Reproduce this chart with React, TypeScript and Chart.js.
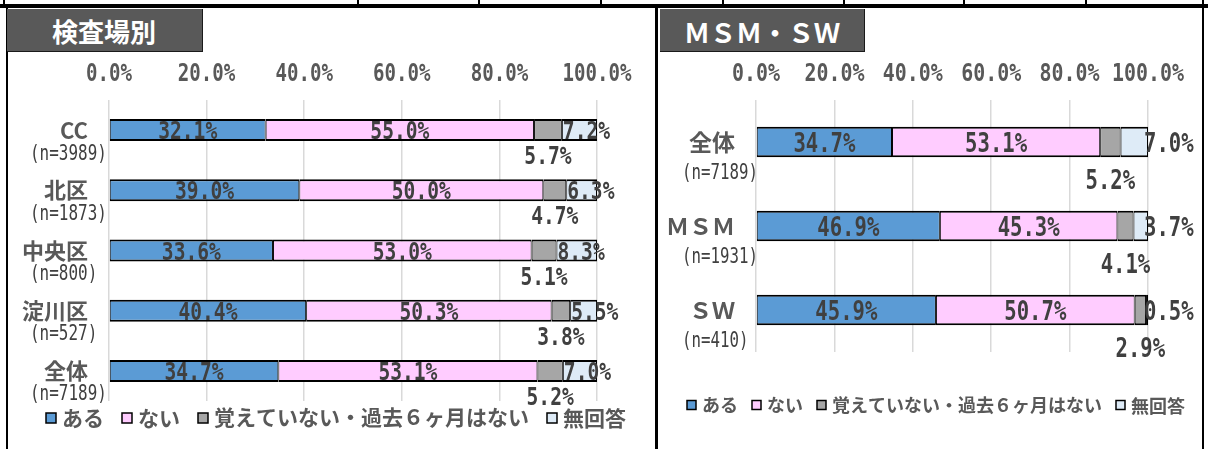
import React, { useEffect, useRef } from 'react';
import { Chart, registerables } from 'chart.js';

Chart.register(...registerables);

// ---------- data ----------
const seriesNames = ['ある', 'ない', '覚えていない・過去６ヶ月はない', '無回答'];
const seriesColors = ['#5B9BD5', '#FFCCFF', '#A6A6A6', '#DEEBF7'];

const siteCategories = ['CC', '北区', '中央区', '淀川区', '全体'];
const siteCounts = ['(n=3989)', '(n=1873)', '(n=800)', '(n=527)', '(n=7189)'];
const siteAru = [32.1, 39.0, 33.6, 40.4, 34.7];
const siteNai = [55.0, 50.0, 53.0, 50.3, 53.1];
const siteOboete = [5.7, 4.7, 5.1, 3.8, 5.2];
const siteMukaitou = [7.2, 6.3, 8.3, 5.5, 7.0];

const groupCategories = ['全体', 'ＭＳＭ', 'ＳＷ'];
const groupCounts = ['(n=7189)', '(n=1931)', '(n=410)'];
const groupAru = [34.7, 46.9, 45.9];
const groupNai = [53.1, 45.3, 50.7];
const groupOboete = [5.2, 4.1, 2.9];
const groupMukaitou = [7.0, 3.7, 0.5];

const tickValues = [0, 20, 40, 60, 80, 100];
const tickLabels = ['0.0%', '20.0%', '40.0%', '60.0%', '80.0%', '100.0%'];

// ---------- styling ----------
const NUM_FAMILY = "'DejaVu Sans Mono', 'Liberation Mono', monospace";
const JP_FAMILY = "'Noto Sans CJK JP', 'Noto Sans', sans-serif";

type TextOpts = {
  size: number;
  family: string;
  weight?: string;
  color: string;
  align?: 'left' | 'right' | 'center';
  sx?: number;
};

function drawText(ctx: CanvasRenderingContext2D, text: string, x: number, cy: number, o: TextOpts) {
  ctx.save();
  ctx.font = `${o.weight || 'normal'} ${o.size}px ${o.family}`;
  ctx.fillStyle = o.color;
  ctx.textAlign = 'left';
  ctx.textBaseline = 'alphabetic';
  const m = ctx.measureText(text);
  const sx = o.sx ?? 1;
  const w = m.width * sx;
  let left = x;
  if (o.align === 'center') left = x - w / 2;
  else if (o.align === 'right') left = x - w;
  const by = cy + (m.actualBoundingBoxAscent - m.actualBoundingBoxDescent) / 2;
  ctx.translate(left, by);
  ctx.scale(sx, 1);
  ctx.fillText(text, 0, 0);
  ctx.restore();
  return w;
}

const panelLabelsPlugin = {
  id: 'panelLabels',
  afterDraw(chart: any, _args: any, s: any) {
    const ctx: CanvasRenderingContext2D = chart.ctx;
    const xs = chart.scales.x;

    // axis tick labels (top)
    tickValues.forEach((v, i) => {
      drawText(ctx, tickLabels[i], xs.getPixelForValue(v), s.tickY, { ...s.tickFont, align: 'center' });
    });

    // category labels
    const meta0 = chart.getDatasetMeta(0);
    chart.data.labels.forEach((lab: string[], i: number) => {
      const y = meta0.data[i].y;
      drawText(ctx, lab[0], s.catRightX, y + s.catDy, { ...s.catFont, align: 'right' });
      drawText(ctx, lab[1], s.nLeftX, y + s.nDy, { ...s.nFont, align: 'left' });
    });

    // value labels
    chart.data.datasets.forEach((ds: any, d: number) => {
      const meta = chart.getDatasetMeta(d);
      meta.data.forEach((el: any, i: number) => {
        const p = el.getProps(['x', 'base', 'y'], true);
        const l = Math.min(p.x, p.base);
        const r = Math.max(p.x, p.base);
        const txt = Number(ds.data[i]).toFixed(1) + '%';
        if (d < 2) {
          drawText(ctx, txt, (l + r) / 2, p.y, { ...s.valFont, align: 'center' });
        } else if (d === 2) {
          drawText(ctx, txt, (l + r) / 2, p.y + s.belowDy, { ...s.valFont, align: 'center' });
        } else {
          const ax = s.lastAnchor === 'end' ? xs.getPixelForValue(100) + s.lastDx : l + s.lastDx;
          drawText(ctx, txt, ax, p.y, { ...s.valFont, align: 'left' });
        }
      });
    });

    // legend
    let x = s.legendX;
    const y = s.legendY;
    const b = s.legendBox;
    chart.data.datasets.forEach((ds: any) => {
      ctx.save();
      ctx.fillStyle = ds.backgroundColor;
      ctx.fillRect(x, y - b / 2, b, b);
      ctx.strokeStyle = '#000';
      ctx.lineWidth = 1.5;
      ctx.strokeRect(x, y - b / 2, b, b);
      ctx.restore();
      x += b + s.legendBoxGap;
      const w = drawText(ctx, ds.label, x, y, { ...s.legendFont, align: 'left' });
      x += w + s.legendItemGap;
    });
  },
};

function StackedPanel(props: {
  left: number;
  top: number;
  width: number;
  height: number;
  categories: string[];
  counts: string[];
  values: number[][];
  padding: { left: number; right: number; top: number; bottom: number };
  barFraction: number;
  labelStyle: any;
}) {
  const ref = useRef<HTMLCanvasElement>(null);
  useEffect(() => {
    const chart = new Chart(ref.current as HTMLCanvasElement, {
      type: 'bar',
      data: {
        labels: props.categories.map((c, i) => [c, props.counts[i]]),
        datasets: seriesNames.map((name, k) => ({
          label: name,
          data: props.values[k],
          backgroundColor: seriesColors[k],
          borderColor: '#000000',
          borderWidth: { top: 2, bottom: 2, left: 1, right: 1 },
          borderSkipped: false,
          categoryPercentage: props.barFraction,
          barPercentage: 1,
        })),
      } as any,
      options: {
        indexAxis: 'y',
        animation: false,
        responsive: false,
        maintainAspectRatio: false,
        events: [],
        layout: { padding: props.padding },
        scales: {
          x: {
            type: 'linear',
            stacked: true,
            position: 'top',
            min: 0,
            max: 100,
            afterBuildTicks: (scale: any) => {
              scale.ticks = tickValues.map((v) => ({ value: v }));
            },
            ticks: { display: false },
            grid: { color: '#D9D9D9', lineWidth: 1.5, drawTicks: false },
            border: { display: false },
          },
          y: {
            stacked: true,
            display: false,
          },
        },
        plugins: {
          legend: { display: false },
          tooltip: { enabled: false },
          panelLabels: props.labelStyle,
        } as any,
      } as any,
      plugins: [panelLabelsPlugin as any],
    });
    return () => chart.destroy();
  }, []);
  return (
    <canvas
      ref={ref}
      width={props.width}
      height={props.height}
      style={{ position: 'absolute', left: props.left, top: props.top, width: props.width, height: props.height }}
    />
  );
}

const leftLabelStyle = {
  tickY: 19,
  tickFont: { size: 25, family: NUM_FAMILY, weight: 'bold', color: '#595959', sx: 0.764 },
  catRightX: 80,
  catDy: 0,
  catFont: { size: 22, family: JP_FAMILY, weight: 'bold', color: '#595959' },
  nLeftX: 22,
  nDy: 23,
  nFont: { size: 21, family: NUM_FAMILY, color: '#404040', sx: 0.76 },
  valFont: { size: 25, family: NUM_FAMILY, weight: 'bold', color: '#404040', sx: 0.784 },
  belowDy: 25,
  lastAnchor: 'start',
  lastDx: 1,
  legendX: 38,
  legendY: 365,
  legendBox: 10,
  legendBoxGap: 6,
  legendItemGap: 18,
  legendFont: { size: 21, family: JP_FAMILY, weight: 'bold', color: '#595959' },
};

const rightLabelStyle = {
  tickY: 19,
  tickFont: { size: 25, family: NUM_FAMILY, weight: 'bold', color: '#595959', sx: 0.797 },
  catRightX: 76,
  catDy: 0,
  catFont: { size: 23, family: JP_FAMILY, weight: 'bold', color: '#595959' },
  nLeftX: 23,
  nDy: 30,
  nFont: { size: 21, family: NUM_FAMILY, color: '#404040', sx: 0.75 },
  valFont: { size: 27, family: NUM_FAMILY, weight: 'bold', color: '#404040', sx: 0.763 },
  belowDy: 37,
  lastAnchor: 'end',
  lastDx: -4,
  legendX: 28,
  legendY: 352,
  legendBox: 9,
  legendBoxGap: 6,
  legendItemGap: 14,
  legendFont: { size: 18, family: JP_FAMILY, weight: 'bold', color: '#595959' },
};

const topCellLines = [3, 357, 478, 600, 722, 843, 963, 1085, 1202];

export default function App() {
  return (
    <div
      style={{
        position: 'absolute',
        left: 0,
        top: 0,
        width: 1208,
        height: 449,
        background: '#ffffff',
        overflow: 'hidden',
      }}
    >
      {topCellLines.map((x) => (
        <div key={x} style={{ position: 'absolute', left: x, top: 0, width: 1.5, height: 5, background: '#000' }} />
      ))}
      <div style={{ position: 'absolute', left: 0, top: 4, width: 1208, height: 4, background: '#000' }} />
      <div style={{ position: 'absolute', left: 6, top: 8, width: 2, height: 441, background: '#000' }} />
      <div style={{ position: 'absolute', left: 655, top: 8, width: 3, height: 441, background: '#000' }} />
      <div style={{ position: 'absolute', left: 1202, top: 8, width: 2, height: 441, background: '#000' }} />

      <div
        style={{
          position: 'absolute',
          left: 7,
          top: 9,
          width: 196,
          height: 43,
          background: '#595959',
          borderRight: '1.5px solid #1a1a1a',
          borderBottom: '1.5px solid #1a1a1a',
          color: '#ffffff',
          fontFamily: JP_FAMILY,
          fontWeight: 'bold',
          fontSize: 26,
          lineHeight: '26px',
          boxSizing: 'border-box',
          paddingLeft: 45,
          paddingTop: 9,
        }}
      >
        検査場別
      </div>
      <div
        style={{
          position: 'absolute',
          left: 660,
          top: 9,
          width: 205,
          height: 43,
          background: '#595959',
          borderRight: '1.5px solid #1a1a1a',
          borderBottom: '1.5px solid #1a1a1a',
          color: '#ffffff',
          fontFamily: JP_FAMILY,
          fontWeight: 'bold',
          fontSize: 26,
          lineHeight: '26px',
          boxSizing: 'border-box',
          paddingLeft: 24,
          paddingTop: 10,
        }}
      >
        ＭＳＭ・ＳＷ
      </div>

      <StackedPanel
        left={8}
        top={53}
        width={647}
        height={396}
        categories={siteCategories}
        counts={siteCounts}
        values={[siteAru, siteNai, siteOboete, siteMukaitou]}
        padding={{ left: 101, right: 58, top: 47, bottom: 48 }}
        barFraction={0.365}
        labelStyle={leftLabelStyle}
      />
      <StackedPanel
        left={659}
        top={53}
        width={543}
        height={396}
        categories={groupCategories}
        counts={groupCounts}
        values={[groupAru, groupNai, groupOboete, groupMukaitou]}
        padding={{ left: 97, right: 54, top: 47, bottom: 97 }}
        barFraction={0.365}
        labelStyle={rightLabelStyle}
      />
    </div>
  );
}
